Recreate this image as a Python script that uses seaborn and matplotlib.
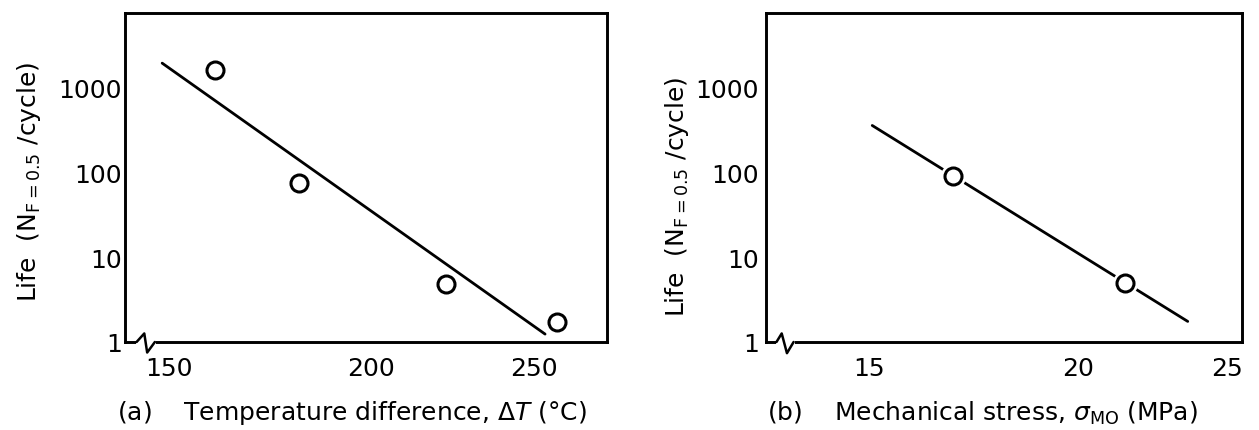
import numpy as np
import pandas as pd
import matplotlib
matplotlib.use("Agg")
import matplotlib.pyplot as plt
from matplotlib.ticker import NullLocator, FixedLocator, FixedFormatter
import seaborn as sns

# ---------------- data ----------------
temp_diff = [161.5, 182.2, 223.0, 257.0]          # (a) measured points, deg C
life_a = [1620, 75, 4.8, 1.72]
fit_a_x = [148.3, 253.4]                          # (a) fitted line end points
fit_a_y = [1960, 1.24]

stress = [17.0, 21.56]                            # (b) measured points, MPa
life_b = [91, 5.0]
fit_b_x = [15.08, 23.68]                          # (b) fitted line end points
fit_b_y = [360, 1.75]

xticks_a = [150, 200, 250]
xticks_b = [15, 20, 25]
yticks = [1, 10, 100, 1000]
ytick_labels = ["1", "10", "100", "1000"]

xlabel_a = r"(a)    Temperature difference, $\Delta T$ (°C)"
xlabel_b = r"(b)    Mechanical stress, $\sigma_{\mathrm{MO}}$ (MPa)"
ylabel = r"Life  (N$_{\mathrm{F=0.5}}$ /cycle)"

# ---------------- layout / style ----------------
# the hand-drawn x axes are not evenly spaced: tick value -> pixel anchors
anchor_px_a = [169, 371, 534]
anchor_px_b = [869, 1078, 1227]
xlim_a = (139.1, 272.4)
xlim_b = (12.54, 25.5)
ylim = (1, 7660)

sns.set_theme(style="white")
plt.rcParams["font.family"] = ["DejaVu Sans"]
plt.rcParams["mathtext.fontset"] = "dejavusans"

FS = 18
LW = 2.1


def piecewise(vals, pos):
    vals = np.asarray(vals, float)
    pos = np.asarray(pos, float)

    def _map(x, a, b):
        x = np.asarray(x, float)
        y = np.interp(x, a, b)
        s0 = (b[1] - b[0]) / (a[1] - a[0])
        s1 = (b[-1] - b[-2]) / (a[-1] - a[-2])
        y = np.where(x < a[0], b[0] + (x - a[0]) * s0, y)
        y = np.where(x > a[-1], b[-1] + (x - a[-1]) * s1, y)
        return y

    return (lambda x: _map(x, vals, pos)), (lambda y: _map(y, pos, vals))


fig = plt.figure(figsize=(12.59, 4.31), dpi=100)
W, H = 1259, 431
ax_a = fig.add_axes([125 / W, 1 - 343 / H, (607 - 125) / W, (343 - 14) / H])
ax_b = fig.add_axes([766 / W, 1 - 343 / H, (1242 - 766) / W, (343 - 14) / H])

df_pts_a = pd.DataFrame({"x": temp_diff, "y": life_a})
df_fit_a = pd.DataFrame({"x": fit_a_x, "y": fit_a_y})
df_pts_b = pd.DataFrame({"x": stress, "y": life_b})
df_fit_b = pd.DataFrame({"x": fit_b_x, "y": fit_b_y})

panels = [
    dict(ax=ax_a, pts=df_pts_a, fit=df_fit_a, xt=xticks_a, anchors=anchor_px_a,
         xlim=xlim_a, xlabel=xlabel_a, xlab_x=0.471, ylab_x=-0.199, ylab_y=0.49,
         ypad=2, zig=([0.024, 0.040, 0.046, 0.062], [0, 0.026, -0.032, 0])),
    dict(ax=ax_b, pts=df_pts_b, fit=df_fit_b, xt=xticks_b, anchors=anchor_px_b,
         xlim=xlim_b, xlabel=xlabel_b, xlab_x=0.454, ylab_x=-0.187, ylab_y=0.444,
         ypad=5, zig=([0.022, 0.033, 0.044, 0.058], [0, 0.026, -0.034, 0])),
]

for p in panels:
    ax = p["ax"]
    fwd, inv = piecewise(p["xt"], p["anchors"])
    ax.set_xscale("function", functions=(fwd, inv))
    ax.set_yscale("log")

    sns.lineplot(data=p["fit"], x="x", y="y", ax=ax, color="black", lw=2.0,
                 sort=False, estimator=None, zorder=2)
    # white halo so the line stops short of the circles
    sns.scatterplot(data=p["pts"], x="x", y="y", ax=ax, s=330, color="white",
                    linewidth=0, zorder=3)
    sns.scatterplot(data=p["pts"], x="x", y="y", ax=ax, s=150, facecolor="white",
                    edgecolor="black", linewidth=2.2, zorder=4)

    ax.set_xlim(*p["xlim"])
    ax.set_ylim(*ylim)
    ax.xaxis.set_major_locator(FixedLocator(p["xt"]))
    ax.xaxis.set_major_formatter(FixedFormatter([str(v) for v in p["xt"]]))
    ax.xaxis.set_minor_locator(NullLocator())
    ax.yaxis.set_major_locator(FixedLocator(yticks))
    ax.yaxis.set_major_formatter(FixedFormatter(ytick_labels))
    ax.yaxis.set_minor_locator(NullLocator())
    ax.tick_params(axis="both", direction="in", length=10, width=LW,
                   labelsize=FS, color="black", labelcolor="black")
    ax.tick_params(axis="x", pad=10)
    ax.tick_params(axis="y", pad=p["ypad"])
    ax.yaxis.get_major_ticks()[0].tick1line.set_visible(False)
    for sp in ax.spines.values():
        sp.set_visible(True)
        sp.set_color("black")
        sp.set_linewidth(LW)
    ax.set_facecolor("white")

    ax.set_xlabel(p["xlabel"], fontsize=FS, color="black")
    ax.xaxis.label.set_va("center")
    ax.xaxis.set_label_coords(p["xlab_x"], -0.213)
    ax.set_ylabel(ylabel, fontsize=FS, color="black")
    ax.yaxis.label.set_va("center")
    ax.yaxis.set_label_coords(p["ylab_x"], p["ylab_y"])

    # axis break symbol on the bottom spine
    zx, zy = p["zig"]
    ax.plot([zx[0] - 0.002, zx[-1] + 0.002], [0, 0], color="white", lw=LW + 2,
            transform=ax.transAxes, clip_on=False, zorder=5, solid_capstyle="butt")
    ax.plot(zx, zy, color="black", lw=1.8, transform=ax.transAxes,
            clip_on=False, zorder=6)

fig.savefig("out.png", dpi=100, facecolor="white")
